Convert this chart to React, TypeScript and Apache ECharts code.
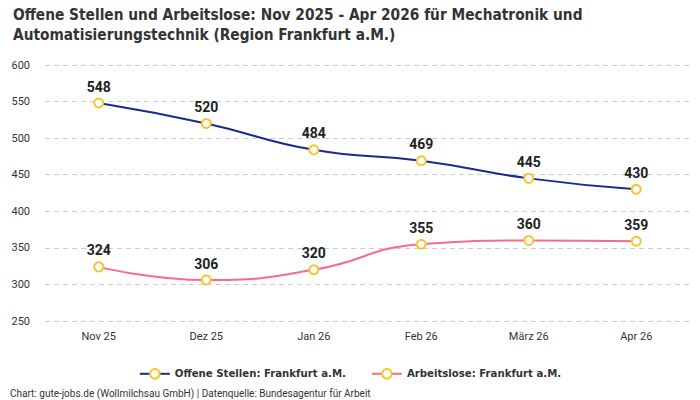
import React, { useEffect, useRef } from "react";
import * as echarts from "echarts";

const categories = ["Nov 25", "Dez 25", "Jan 26", "Feb 26", "März 26", "Apr 26"];
const offeneStellen = [548, 520, 484, 469, 445, 430];
const arbeitslose = [324, 306, 320, 355, 360, 359];

const titleText =
  "Offene Stellen und Arbeitslose: Nov 2025 - Apr 2026 für Mechatronik und\nAutomatisierungstechnik (Region Frankfurt a.M.)";
const footerText =
  "Chart: gute-jobs.de (Wollmilchsau GmbH) | Datenquelle: Bundesagentur für Arbeit";

const condensed = "'Liberation Sans Narrow', 'DejaVu Sans Condensed', 'Roboto', sans-serif";
const body = "'Roboto', 'Noto Sans', sans-serif";

export default function App() {
  const ref = useRef<HTMLDivElement>(null);

  useEffect(() => {
    document.body.style.margin = "0";
    if (!ref.current) return;
    const chart = echarts.init(ref.current, undefined, { renderer: "svg" });
    const markerColor = "#f7c431";
    const labelStyle = {
      show: true,
      position: "top" as const,
      distance: 4,
      fontSize: 14,
      fontWeight: "bold" as const,
      color: "#222",
      fontFamily: body,
    };
    chart.setOption({
      animation: false,
      backgroundColor: "#fff",
      title: {
        text: titleText,
        left: 8,
        top: 0,
        textStyle: {
          fontSize: 15.3,
          fontWeight: "bold",
          color: "#333",
          fontFamily: condensed,
          lineHeight: 20,
        },
      },
      graphic: [
        {
          type: "text",
          left: 10,
          top: 388,
          style: { text: footerText, fontSize: 10, fill: "#333", fontFamily: body },
        },
      ],
      legend: {
        top: 363,
        left: "center",
        itemGap: 25,
        itemWidth: 30,
        itemHeight: 12,
        textStyle: { fontSize: 11.3, fontWeight: "bold", color: "#333", fontFamily: condensed },
        data: ["Offene Stellen: Frankfurt a.M.", "Arbeitslose: Frankfurt a.M."],
      },
      grid: { left: 45, right: 10, top: 65, bottom: 79 },
      xAxis: {
        type: "category",
        data: categories,
        axisLine: { show: false },
        axisTick: { show: false },
        axisLabel: { fontSize: 11, color: "#333", margin: 10, fontFamily: body },
      },
      yAxis: {
        type: "value",
        min: 250,
        max: 600,
        interval: 50,
        axisLabel: { fontSize: 11, color: "#333", margin: 15, fontFamily: body },
        splitLine: { lineStyle: { type: [5, 4], color: "#ccc" } },
      },
      series: [
        {
          name: "Offene Stellen: Frankfurt a.M.",
          type: "line",
          smooth: true,
          data: offeneStellen,
          symbol: "circle",
          symbolSize: 9,
          showAllSymbol: true,
          lineStyle: { color: "#1a2a8c", width: 2 },
          itemStyle: { color: "#fff", borderColor: markerColor, borderWidth: 2 },
          label: labelStyle,
        },
        {
          name: "Arbeitslose: Frankfurt a.M.",
          type: "line",
          smooth: true,
          data: arbeitslose,
          symbol: "circle",
          symbolSize: 9,
          showAllSymbol: true,
          lineStyle: { color: "#f56d88", width: 2 },
          itemStyle: { color: "#fff", borderColor: markerColor, borderWidth: 2 },
          label: labelStyle,
        },
      ],
    });
    return () => chart.dispose();
  }, []);

  return <div ref={ref} style={{ width: 700, height: 400 }} />;
}
